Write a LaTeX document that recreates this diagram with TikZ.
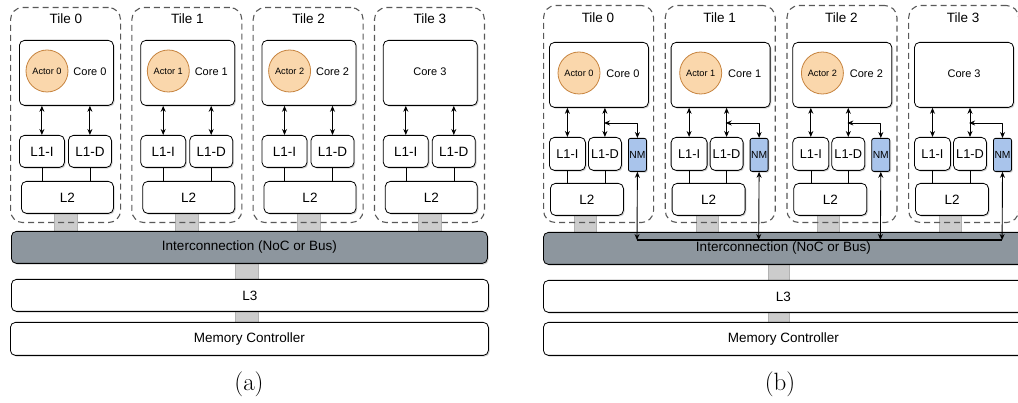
\documentclass[tikz,border=0pt]{standalone}
\usepackage{fontspec}
\newfontfamily\arial{Liberation Sans}
\usetikzlibrary{arrows.meta,shadows}
\definecolor{actorfill}{HTML}{FAD7AC}
\definecolor{actordraw}{HTML}{C7843F}
\definecolor{nmfill}{HTML}{A9C4EB}
\definecolor{busfill}{HTML}{8D969E}
\tikzset{
	box/.style={draw,fill=white,rounded corners=5pt,anchor=north west,inner sep=0pt,line width=0.8pt,
		drop shadow={shadow xshift=1.2pt,shadow yshift=-1.2pt,opacity=.3,fill=black!60}},
	tile/.style={draw=black!65,dash pattern=on 6pt off 4pt,line width=1.1pt,rounded corners=12pt,anchor=north west,inner sep=0pt},
	link/.style={draw=black!30,fill=black!20,anchor=north west,inner sep=0pt,line width=0.8pt},
	actor/.style={circle,draw=actordraw,fill=actorfill,line width=0.8pt,minimum size=42pt,inner sep=0pt,font=\arial\fontsize{9.2}{11}\selectfont},
	nm/.style={box,fill=nmfill,rounded corners=2pt,font=\arial\fontsize{10.3}{12}\selectfont},
	big/.style={font=\arial\fontsize{13.5}{16}\selectfont},
	mid/.style={font=\arial\fontsize{11}{13}\selectfont},
	l1b/.style={font=\arial\fontsize{12.8}{15}\selectfont},
}
\begin{document}
\begin{tikzpicture}[x=1pt,y=-1pt,>={Stealth[length=6pt,width=5pt]},line join=round,font=\arial]
	\useasboundingbox (0,0) rectangle (1018,403);
	% (a) tiles
	\foreach \i in {0,...,3}{
		\pgfmathsetmacro\cx{19+121.3*\i}
		\node[link,minimum width=23pt,minimum height=18pt] (linkA\i) at (\cx+35,213) {};
		\node[tile,minimum width=110pt,minimum height=215pt] (tileA\i) at (\cx-9,7) {};
		\node[big] (titleA\i) at (\cx+47,19) {Tile \i};
		\node[box,minimum width=94pt,minimum height=65pt] (coreA\i) at (\cx,40) {};
		\ifnum\i<3
			\node[actor] (actorA\i) at (\cx+28,71) {Actor \i};
			\node[mid] (labelA\i) at (\cx+71,72) {Core \i};
		\else
			\node[mid] (labelA\i) at (\cx+47,72) {Core \i};
		\fi
		\node[box,big,minimum width=45pt,minimum height=32pt] (l1iA\i) at (\cx,135) {L1-I};
		\node[box,big,minimum width=43pt,minimum height=32pt] (l1dA\i) at (\cx+49,135) {L1-D};
		\node[box,big,minimum width=92pt,minimum height=32pt] (l2A\i) at (\cx+2,181) {L2};
		\draw[<->,line width=0.9pt] (coreA\i.south -| l1iA\i.north) -- (l1iA\i.north);
		\draw[<->,line width=0.9pt] (coreA\i.south -| l1dA\i.north) -- (l1dA\i.north);
		\draw[line width=0.6pt] (l1iA\i.south) -- (l2A\i.north -| l1iA\i.south);
		\draw[line width=0.6pt] (l1dA\i.south) -- (l2A\i.north -| l1dA\i.south);
	}
	\node[link,minimum width=23pt,minimum height=16pt] (linkA4) at (235,263) {};
	\node[link,minimum width=23pt,minimum height=11pt] (linkA5) at (235,311) {};
	\node[box,big,fill=busfill,minimum width=476pt,minimum height=32pt] (icA) at (11,231) {Interconnection (NoC or Bus)};
	\node[box,big,minimum width=477pt,minimum height=32pt] (l3A) at (11,279) {L3};
	\node[box,big,minimum width=478pt,minimum height=33pt] (mcA) at (10,322) {Memory Controller};
	\node[font=\rmfamily\fontsize{25}{30}\selectfont] (capA) at (249,384) {(a)};
	% (b) tiles
	\foreach \i in {0,...,3}{
		\pgfmathsetmacro\cx{549+121.7*\i}
		\node[link,minimum width=22pt,minimum height=17pt] (linkB\i) at (\cx+25,215) {};
		\node[tile,minimum width=110pt,minimum height=217pt] (tileB\i) at (\cx-6,5) {};
		\node[big] (titleB\i) at (\cx+49,18) {Tile \i};
		\node[box,minimum width=99pt,minimum height=65pt] (coreB\i) at (\cx,42) {};
		\ifnum\i<3
			\node[actor] (actorB\i) at (\cx+30,73) {Actor \i};
			\node[mid] (labelB\i) at (\cx+74,74) {Core \i};
		\else
			\node[mid] (labelB\i) at (\cx+50,74) {Core \i};
		\fi
		\node[box,l1b,minimum width=36pt,minimum height=33pt] (l1iB\i) at (\cx,137) {L1-I};
		\node[box,l1b,minimum width=33pt,minimum height=33pt] (l1dB\i) at (\cx+39,137) {L1-D};
		\node[nm,minimum width=18pt,minimum height=33pt] (nmB\i) at (\cx+79,138) {NM};
		\node[box,big,minimum width=73pt,minimum height=32pt] (l2B\i) at (\cx+1,183) {L2};
		\coordinate (tapB\i) at (\cx+55,123);
		\coordinate (busB\i) at (\cx+88,240);
		\draw[<->,line width=0.9pt] (coreB\i.south -| l1iB\i.north) -- (l1iB\i.north);
		\draw[<->,line width=0.9pt] (coreB\i.south -| l1dB\i.north) -- (l1dB\i.north);
		\draw[<->,line width=0.9pt] (tapB\i) -| (nmB\i.north);
		\draw[line width=0.6pt] (l1iB\i.south) -- (l2B\i.north -| l1iB\i.south);
		\draw[line width=0.6pt] (l1dB\i.south) -- (l2B\i.north -| l1dB\i.south);
	}
	\node[link,minimum width=21pt,minimum height=16pt] (linkB4) at (768,264) {};
	\node[link,minimum width=21pt,minimum height=10pt] (linkB5) at (768,312) {};
	\node[box,big,fill=busfill,minimum width=480pt,minimum height=32pt] (icB) at (543,232) {Interconnection (NoC or Bus)};
	\node[box,big,minimum width=480pt,minimum height=32pt] (l3B) at (543,280) {L3};
	\node[box,big,minimum width=480pt,minimum height=33pt] (mcB) at (543,322) {Memory Controller};
	\foreach \i in {0,...,3}
		\draw[<->,line width=0.9pt] (nmB\i.south) -- (busB\i);
	\draw[line width=2pt] (busB0) -- (busB3);
	\node[font=\rmfamily\fontsize{25}{30}\selectfont] (capB) at (780,384) {(b)};
\end{tikzpicture}
\end{document}
